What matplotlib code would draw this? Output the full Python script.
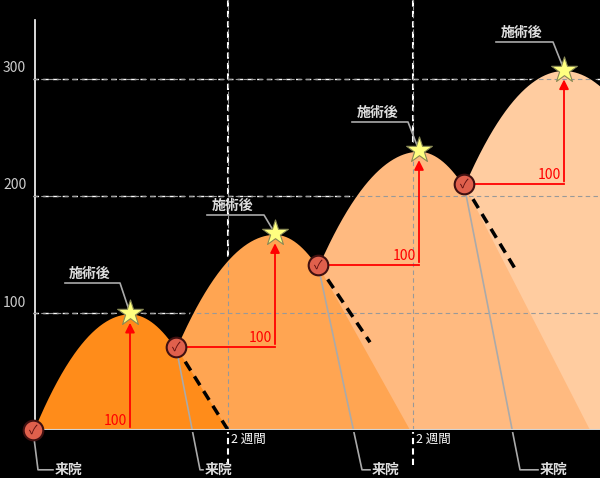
import numpy as np
import matplotlib.pyplot as plt

plt.rcParams['font.family'] = ['Noto Sans CJK JP', 'DejaVu Sans']

# key points (x in px-like units, y in value units)
visit_x = [33, 176, 318, 464]
visit_y = [0, 71, 141, 210]
peak_x = [130, 275, 419, 564]
peak_y = [100, 168, 239, 308]
dash_end_x = [228, 370, 515]
dash_end_y = [0, 75, 138]
fill_end_x = [228, 410, 590, 600]
colors = ['#ff8c1a', '#ffa552', '#ffba80', '#ffcca0']
yticks = [100, 200, 300]
vlines = [228, 413]
visit_label_pos = [(38, 55), (200, 205), (362, 372), (520, 540)]
star_label_pos = [(65, 115, 283), (207, 259, 215), (352, 403, 122), (496, 548, 42)]

fig = plt.figure(figsize=(6, 4.78), dpi=100)
ax = fig.add_axes([0, 0, 1, 1])
fig.patch.set_facecolor('black')
ax.set_facecolor('black')
ax.set_xlim(0, 600)
ax.set_ylim(-41, 367.5)
ax.axis('off')

# white grid
for t in yticks:
    ax.plot([33, 600], [t, t], color='white', ls=(0, (4, 3)), lw=1, zorder=1)
    ax.text(3, t + 3, str(t), color='#cccccc', fontsize=10, va='bottom', zorder=1)
for v in vlines:
    ax.plot([v, v], [-30, 367.5], color='white', ls=(0, (3, 2)), lw=1.5, zorder=1)
ax.plot([35, 35], [0, 350], color='white', lw=1.2, zorder=1)


def curve(i, x):
    x0, y0, px, py = visit_x[i], visit_y[i], peak_x[i], peak_y[i]
    al = (py - y0) / (px - x0) ** 2
    if i + 1 < len(visit_x):
        ar = (py - visit_y[i + 1]) / (visit_x[i + 1] - px) ** 2
    else:
        ar = al
    return np.where(x <= px, py - al * (x - px) ** 2, py - ar * (x - px) ** 2)


n = len(visit_x)
for i in range(n):
    xe = visit_x[i + 1] if i + 1 < n else 600
    xs = np.linspace(visit_x[i], xe, 200)
    ys = curve(i, xs)
    z = 10 - i
    px = np.concatenate([[visit_x[i]], xs, [fill_end_x[i], visit_x[i]]])
    py = np.concatenate([[0], ys, [0, 0]])
    ax.fill(px, py, color=colors[i], lw=0, zorder=z)
    ax.plot(xs, ys, color='black', lw=2, zorder=20)
    if i < len(dash_end_x):
        ax.plot([xe, dash_end_x[i]], [visit_y[i + 1], dash_end_y[i]], color='black', lw=2.5,
                ls=(0, (3, 2)), zorder=20)

# gray grid over fills
for t in yticks:
    ax.plot([33, 600], [t, t], color='#999999', ls=(0, (4, 3)), lw=0.8, zorder=15)
for v in vlines:
    ax.plot([v, v], [0, 367.5], color='#999999', ls=(0, (4, 3)), lw=0.8, zorder=15)
ax.plot([33, 600], [0, 0], color='#dddddd', lw=1.5, zorder=21)
ax.plot([33, 600], [-0.8, -0.8], color='black', lw=1.5, zorder=21)

# 2 weeks labels
for v in vlines:
    ax.text(v + 3, -8, '2 週間', color='white', fontsize=9, va='center', zorder=30)

# red arrows
for i in range(n):
    vx, vy, sx, sy = visit_x[i], visit_y[i], peak_x[i], peak_y[i]
    if i > 0:
        ax.plot([vx + 8, sx], [vy, vy], color='red', lw=1.3, zorder=22)
    ax.annotate('', xy=(sx, sy - 6), xytext=(sx, vy),
                arrowprops=dict(arrowstyle='-|>', color='red', lw=1.3, mutation_scale=14), zorder=22)
    ax.text(sx - 3, vy + 2, '100', color='red', fontsize=10, ha='right', va='bottom', zorder=22)

# visit leaders & labels
for i in range(n):
    lx, tx = visit_label_pos[i]
    ax.plot([visit_x[i], lx, tx - 2], [visit_y[i], -34, -34], color='#aaaaaa', lw=1.2, zorder=19)
    ax.text(tx, -34, '来院', color='#dddddd', fontsize=10, fontweight='bold', va='center', zorder=30)

# star leaders & labels
for i in range(n):
    x0, x1, lp = star_label_pos[i]
    ly = (430 - lp) / 1.17
    ax.plot([x0, x1 + 5, peak_x[i]], [ly, ly, peak_y[i]], color='#aaaaaa', lw=1.2, zorder=23)
    ax.text((x0 + x1) / 2, ly + 2, '施術後', color='#dddddd', fontsize=10, fontweight='bold',
            ha='center', va='bottom', zorder=30)

ax.scatter(peak_x, peak_y, marker='*', s=380, color='#ffff80', edgecolor='#888855', lw=0.8, zorder=25)
ax.scatter(visit_x, visit_y, marker='o', s=200, color='#e0604c', edgecolor='#401010', lw=1.5, zorder=25)
for x, y in zip(visit_x, visit_y):
    ax.text(x, y, '✓', color='#601010', fontsize=9, ha='center', va='center', zorder=26)

fig.savefig('out.png', dpi=100, facecolor='black')
